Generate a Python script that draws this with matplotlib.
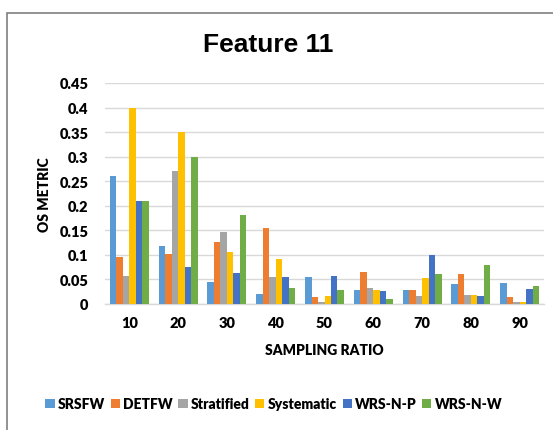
import matplotlib
matplotlib.use("Agg")
import matplotlib.pyplot as plt
import numpy as np
from matplotlib.patches import Rectangle

categories = ["10", "20", "30", "40", "50", "60", "70", "80", "90"]
series_names = ["SRSFW", "DETFW", "Stratified", "Systematic", "WRS-N-P", "WRS-N-W"]
srsfw      = [0.260, 0.118, 0.044, 0.021, 0.054, 0.029, 0.029, 0.041, 0.043]
detfw      = [0.095, 0.101, 0.126, 0.154, 0.015, 0.066, 0.029, 0.061, 0.015]
stratified = [0.057, 0.271, 0.146, 0.055, 0.005, 0.033, 0.017, 0.019, 0.004]
systematic = [0.400, 0.350, 0.106, 0.091, 0.017, 0.029, 0.052, 0.019, 0.004]
wrs_n_p    = [0.210, 0.075, 0.064, 0.055, 0.056, 0.027, 0.100, 0.017, 0.031]
wrs_n_w    = [0.210, 0.299, 0.181, 0.033, 0.029, 0.010, 0.061, 0.079, 0.036]
series = [srsfw, detfw, stratified, systematic, wrs_n_p, wrs_n_w]
colors = ["#5B9BD5", "#ED7D31", "#A5A5A5", "#FFC000", "#4472C4", "#70AD47"]
yticks = [0, 0.05, 0.1, 0.15, 0.2, 0.25, 0.3, 0.35, 0.4, 0.45]
ytick_labels = ["0", "0.05", "0.1", "0.15", "0.2", "0.25", "0.3", "0.35", "0.4", "0.45"]

plt.rcParams['font.family'] = ['Lato', 'DejaVu Sans']

W, H = 553, 431
fig = plt.figure(figsize=(W/100, H/100), dpi=100)
ax = fig.add_axes([105/W, 1-305/H, (544-105)/W, (305-84)/H])

x = np.arange(len(categories))
bw = 0.133
for i, (name, vals, c) in enumerate(zip(series_names, series, colors)):
    ax.bar(x + (i - 2.5)*bw, vals, width=bw, color=c, label=name, zorder=3)

ax.set_xlim(-0.5, len(categories)-0.5)
ax.set_ylim(0, 0.45)
ax.set_yticks(yticks)
ax.set_yticklabels(ytick_labels, fontsize=10.5, fontweight='heavy')
ax.set_xticks(x)
ax.set_xticklabels(categories, fontsize=10.5, fontweight='heavy')
ax.tick_params(axis='both', length=0)
ax.tick_params(axis='y', pad=12)
ax.tick_params(axis='x', pad=9)
ax.grid(axis='y', color='#d9d9d9', linewidth=1, zorder=0)
for s in ['top', 'right', 'left']:
    ax.spines[s].set_visible(False)
ax.spines['bottom'].set_color('#d9d9d9')
ax.spines['bottom'].set_linewidth(1)

ax.set_xlabel("SAMPLING RATIO", fontsize=10, fontweight='heavy', labelpad=10)
ax.set_ylabel("OS METRIC", fontsize=10, fontweight='heavy', labelpad=6)
fig.text(268/W, 1-45/H, "Feature 11", fontsize=19, fontweight='bold',
         family=['Liberation Sans', 'DejaVu Sans'], ha='center', va='center')

leg = fig.legend(loc='center', bbox_to_anchor=(274/W, 1-405/H), ncol=6, frameon=False,
                 prop={'weight': 'heavy', 'size': 10},
                 handlelength=0.65, handleheight=0.65, handletextpad=0.25, columnspacing=0.4)

fig.patches.append(Rectangle((7/W, -0.1), 1.2, 1-14/H + 0.1, transform=fig.transFigure,
                             fill=False, edgecolor='#7f7f7f', linewidth=1.2))

fig.savefig("out.png", dpi=100)
